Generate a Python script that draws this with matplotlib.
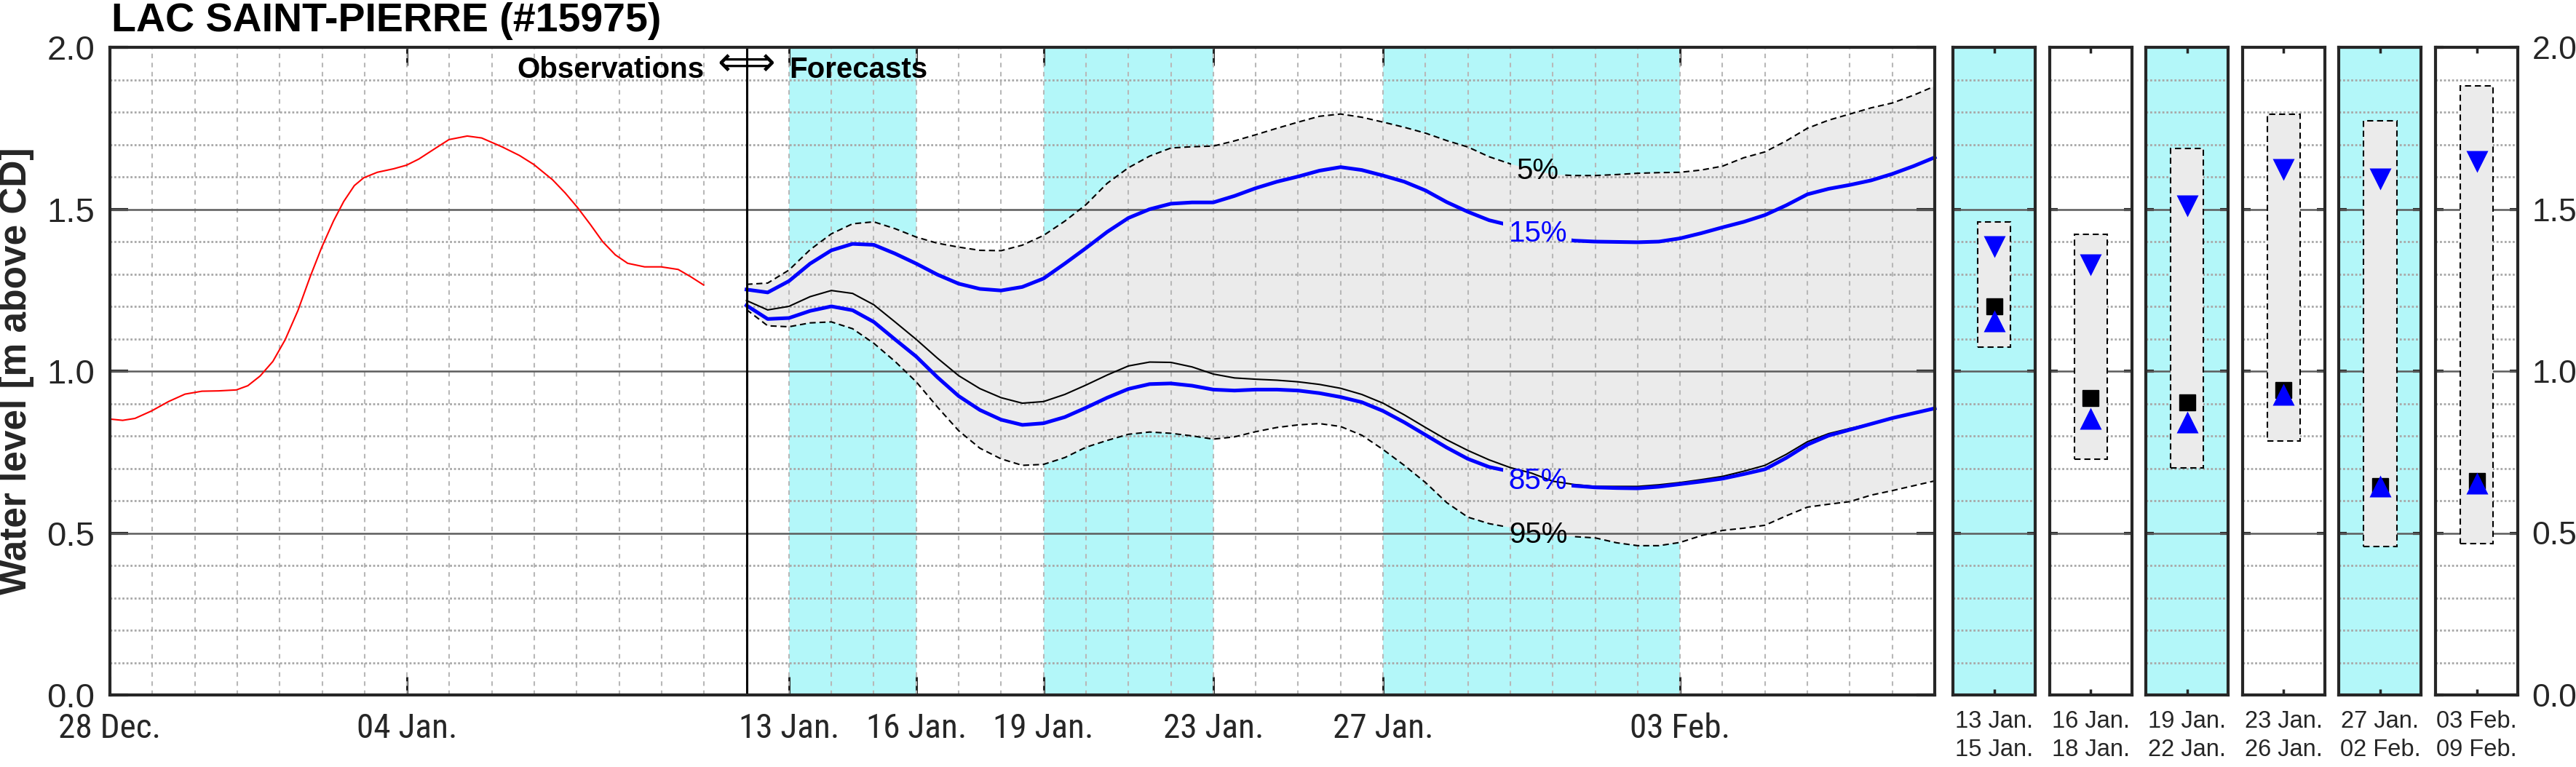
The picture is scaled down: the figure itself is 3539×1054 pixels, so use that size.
import os
import numpy as np
import matplotlib
matplotlib.use('Agg')
from matplotlib import pyplot as plt
from matplotlib import font_manager
from matplotlib.patches import Rectangle

# x axis in days since 28 Dec.
obs_days = [0, 0.3, 0.59, 0.98, 1.38, 1.77, 2.17, 2.56, 2.98, 3.25, 3.54, 3.84, 4.13, 4.43,
            4.72, 4.99, 5.27, 5.51, 5.76, 5.98, 6.3, 6.69, 6.99, 7.28, 7.68, 7.99, 8.42, 8.76,
            9.25, 9.65, 9.99, 10.43, 10.73, 11.02, 11.32, 11.61, 11.91, 12.2, 12.6, 12.99,
            13.39, 13.68, 13.99]
obs_level = [0.852, 0.848, 0.854, 0.877, 0.906, 0.929, 0.938, 0.939, 0.942, 0.955, 0.985,
             1.030, 1.097, 1.187, 1.292, 1.382, 1.464, 1.524, 1.573, 1.597, 1.614, 1.625,
             1.636, 1.655, 1.689, 1.715, 1.726, 1.720, 1.692, 1.666, 1.638, 1.591, 1.550,
             1.505, 1.453, 1.400, 1.359, 1.333, 1.322, 1.322, 1.314, 1.292, 1.266]

fc_days = np.arange(15, 43.01, 0.5)
q05 = [1.268, 1.272, 1.312, 1.375, 1.424, 1.455, 1.461, 1.440, 1.414, 1.395, 1.383, 1.373,
       1.372, 1.389, 1.419, 1.463, 1.514, 1.580, 1.628, 1.664, 1.689, 1.693, 1.695, 1.711,
       1.730, 1.750, 1.769, 1.787, 1.794, 1.784, 1.769, 1.753, 1.735, 1.712, 1.692, 1.662,
       1.640, 1.622, 1.607, 1.604, 1.604, 1.607, 1.611, 1.613, 1.614, 1.621, 1.633, 1.659,
       1.677, 1.711, 1.750, 1.775, 1.794, 1.813, 1.828, 1.852, 1.880]
q15 = [1.252, 1.243, 1.278, 1.332, 1.373, 1.393, 1.390, 1.363, 1.332, 1.298, 1.270, 1.254,
       1.249, 1.260, 1.286, 1.332, 1.380, 1.430, 1.473, 1.500, 1.517, 1.521, 1.521, 1.541,
       1.565, 1.585, 1.601, 1.619, 1.630, 1.621, 1.604, 1.585, 1.558, 1.522, 1.492, 1.466,
       1.450, 1.432, 1.412, 1.403, 1.400, 1.399, 1.398, 1.400, 1.410, 1.426, 1.444, 1.461,
       1.482, 1.512, 1.546, 1.563, 1.575, 1.589, 1.609, 1.633, 1.660]
q50 = [1.218, 1.189, 1.200, 1.230, 1.249, 1.240, 1.205, 1.152, 1.098, 1.040, 0.986, 0.946,
       0.918, 0.901, 0.906, 0.928, 0.957, 0.988, 1.016, 1.028, 1.027, 1.013, 0.991, 0.979,
       0.975, 0.972, 0.967, 0.959, 0.947, 0.928, 0.901, 0.865, 0.826, 0.788, 0.755, 0.726,
       0.702, 0.685, 0.660, 0.650, 0.644, 0.644, 0.644, 0.649, 0.656, 0.665, 0.675, 0.691,
       0.709, 0.743, 0.782, 0.807, 0.823, 0.838, 0.855, 0.870, 0.885]
q85 = [1.203, 1.161, 1.164, 1.186, 1.200, 1.188, 1.152, 1.098, 1.045, 0.981, 0.923, 0.880,
       0.850, 0.834, 0.839, 0.858, 0.887, 0.918, 0.945, 0.960, 0.962, 0.955, 0.943, 0.940,
       0.943, 0.943, 0.940, 0.932, 0.920, 0.904, 0.877, 0.842, 0.803, 0.764, 0.729, 0.704,
       0.690, 0.670, 0.652, 0.646, 0.641, 0.639, 0.638, 0.643, 0.651, 0.659, 0.668, 0.682,
       0.697, 0.732, 0.773, 0.801, 0.819, 0.837, 0.855, 0.870, 0.885]
q95 = [1.190, 1.140, 1.137, 1.149, 1.152, 1.131, 1.086, 1.030, 0.967, 0.889, 0.816, 0.762,
       0.729, 0.709, 0.712, 0.733, 0.765, 0.786, 0.805, 0.812, 0.808, 0.800, 0.790, 0.797,
       0.813, 0.826, 0.834, 0.838, 0.829, 0.802, 0.758, 0.709, 0.656, 0.594, 0.549, 0.529,
       0.517, 0.503, 0.493, 0.489, 0.485, 0.470, 0.461, 0.461, 0.471, 0.492, 0.508, 0.515,
       0.524, 0.553, 0.580, 0.589, 0.597, 0.617, 0.631, 0.646, 0.661]

tick_days = [0, 7, 16, 19, 22, 26, 30, 37]
tick_labels = ['28 Dec.', '04 Jan.', '13 Jan.', '16 Jan.', '19 Jan.', '23 Jan.', '27 Jan.', '03 Feb.']
band_start = [16, 22, 30]
band_end = [19, 26, 37]

# period summaries (right panels)
per_start = ['13 Jan.', '16 Jan.', '19 Jan.', '23 Jan.', '27 Jan.', '03 Feb.']
per_end = ['15 Jan.', '18 Jan.', '22 Jan.', '26 Jan.', '02 Feb.', '09 Feb.']
per_q05 = [1.461, 1.423, 1.687, 1.793, 1.773, 1.881]
per_q15 = [1.385, 1.329, 1.511, 1.622, 1.594, 1.647]
per_q50 = [1.199, 0.917, 0.903, 0.941, 0.645, 0.660]
per_q85 = [1.155, 0.853, 0.843, 0.929, 0.645, 0.654]
per_q95 = [1.075, 0.728, 0.702, 0.785, 0.458, 0.467]
per_shaded = [True, False, True, False, True, False]

W, H = 3539, 1054
CYAN = '#b3f7f9'
FILL = '#ebebeb'
DARK = '#262626'
ARIAL = 'Liberation Sans'


def narrow_font():
    # look for a real narrow sans face for the date labels
    keys = ['liberationsansnarrow', 'arialnarrow', 'arialn.', 'robotocondensed',
            'notosans-condensed', 'notosanscondensed']
    for k in keys:
        for f in font_manager.fontManager.ttflist:
            fn = os.path.basename(f.fname).lower().replace(' ', '').replace('_', '')
            if k in fn and f.style == 'normal' and 'semi' not in fn and 'extra' not in fn \
                    and 'bold' not in fn and 'light' not in fn and 'medium' not in fn:
                return font_manager.FontProperties(fname=f.fname, size=34)
    return font_manager.FontProperties(family=ARIAL, size=31)


def draw_hgrid(a):
    minor = [v / 10 for v in range(1, 20) if v % 5]
    a.hlines(minor, 0, 1, transform=a.get_yaxis_transform(), colors='#a8a8a8',
             linestyles=(0, (1.0, 1.0)), lw=2.0, zorder=2)
    a.hlines([0.5, 1.0, 1.5], 0, 1, transform=a.get_yaxis_transform(), colors='#5c5c5c',
             lw=1.8, zorder=2)


fig = plt.figure(figsize=(W / 100, H / 100), dpi=100)
ax = fig.add_axes([151 / W, 99 / H, (2658 - 151) / W, 890 / H])
ax.set_xlim(0, 43)
ax.set_ylim(0, 2)

for s, e in zip(band_start, band_end):
    ax.axvspan(s, e, color=CYAN, lw=0, zorder=0)
ax.fill(np.r_[fc_days, fc_days[::-1]], np.r_[q05, q95[::-1]], color=FILL, lw=0, zorder=1)

ax.vlines(range(1, 43), 0, 1, transform=ax.get_xaxis_transform(), colors='#b8b8b8',
          linestyles=(0, (3, 3)), lw=1.5, zorder=2)
draw_hgrid(ax)

ax.plot(obs_days, obs_level, color='red', lw=1.5, zorder=4)
ax.axvline(15, color='k', lw=2.2, zorder=5)
ax.plot(fc_days, q50, color='k', lw=1.5, zorder=4)

labels = [('5%', q05, 1.618, 'k'), ('15%', q15, 1.424, 'blue'),
          ('85%', q85, 0.660, 'blue'), ('95%', q95, 0.495, 'k')]
texts = []
for lab, series, yv, col in labels:
    texts.append(ax.text(33.65, yv, lab, ha='center', va='center', fontsize=29,
                         color=col, family=ARIAL, zorder=6))
fig.canvas.draw()
inv = ax.transData.inverted()
for (lab, series, yv, col), t in zip(labels, texts):
    bb = t.get_window_extent()
    x0 = inv.transform((bb.x0 - 8, bb.y0))[0]
    x1 = inv.transform((bb.x1 + 6, bb.y0))[0]
    for rx, rw in [(-1, x0 + 1), (x1, 50)]:
        if col == 'blue':
            ln, = ax.plot(fc_days, series, color='blue', lw=3.6, zorder=4)
        else:
            ln, = ax.plot(fc_days, series, color='k', lw=1.5, ls=(0, (4, 2.5)), zorder=4)
        ln.set_clip_path(Rectangle((rx, -1), rw, 5, transform=ax.transData))

ax.text(14.0, 1.905, 'Observations', ha='right', va='baseline', fontsize=29,
        fontweight='bold', family=ARIAL, zorder=6)
ax.text(15.0, 1.912, '\u27fa', ha='center', va='baseline', fontsize=40,
        family='DejaVu Sans', zorder=6)
ax.text(16.0, 1.905, 'Forecasts', ha='left', va='baseline', fontsize=29,
        fontweight='bold', family=ARIAL, zorder=6)

ax.set_xticks(tick_days, tick_labels)
ax.set_yticks([0, 0.5, 1.0, 1.5, 2.0], ['0.0', '0.5', '1.0', '1.5', '2.0'])
ax.tick_params(axis='x', direction='in', length=18, width=2.2, top=True, colors=DARK, pad=17)
ax.tick_params(axis='y', direction='in', length=18, width=3, right=True, colors=DARK,
               labelsize=34, pad=15)
xfp = narrow_font()
for lab in ax.get_xticklabels():
    lab.set_fontproperties(xfp)
for lab in ax.get_yticklabels():
    lab.set_family(ARIAL)
for sp in ax.spines.values():
    sp.set_color(DARK)
    sp.set_linewidth(3)
    sp.set_zorder(7)

fig.text(23 / W, 1 - 510 / H, 'Water level [m above CD]', rotation=90, ha='center',
         va='center', fontsize=37, fontweight='bold', family=ARIAL, color=DARK)
fig.text(153 / W, 1 - 43 / H, 'LAC SAINT-PIERRE (#15975)', ha='left', va='baseline',
         fontsize=40, fontweight='bold', family=ARIAL)

for i in range(6):
    pax = fig.add_axes([(2683 + 132.6 * i) / W, 99 / H, 113 / W, 890 / H])
    pax.set_xlim(0, 1)
    pax.set_ylim(0, 2)
    if per_shaded[i]:
        pax.set_facecolor(CYAN)
    draw_hgrid(pax)
    pax.add_patch(Rectangle((0.3, per_q95[i]), 0.4, per_q05[i] - per_q95[i], facecolor=FILL,
                            edgecolor='k', ls=(0, (4, 2.5)), lw=1.5, zorder=3))
    pax.plot(0.5, per_q50[i], 's', ms=16, color='k', zorder=4)
    pax.plot(0.5, per_q85[i], '^', ms=22, color='blue', mec='none', zorder=5)
    pax.plot(0.5, per_q15[i], 'v', ms=22, color='blue', mec='none', zorder=5)
    pax.set_xticks([0.5], [per_start[i] + '\n' + per_end[i]])
    pax.tick_params(axis='x', direction='in', length=6, width=2.5, top=True, colors=DARK,
                    labelsize=23.5, pad=15)
    for lab in pax.get_xticklabels():
        lab.set_family(ARIAL)
        lab.set_linespacing(1.34)
    if i == 5:
        pax.set_yticks([0, 0.5, 1.0, 1.5, 2.0], ['0.0', '0.5', '1.0', '1.5', '2.0'])
        pax.tick_params(axis='y', direction='in', length=8, width=3, left=True, right=True,
                        labelleft=False, labelright=True, colors=DARK, labelsize=32, pad=14)
        for lab in pax.get_yticklabels():
            lab.set_family(ARIAL)
    else:
        pax.set_yticks([0.5, 1.0, 1.5], [])
        pax.tick_params(axis='y', direction='in', length=8, width=3, left=True, right=True,
                        colors=DARK)
    for sp in pax.spines.values():
        sp.set_color(DARK)
        sp.set_linewidth(3)

fig.savefig('out.png', dpi=100)
